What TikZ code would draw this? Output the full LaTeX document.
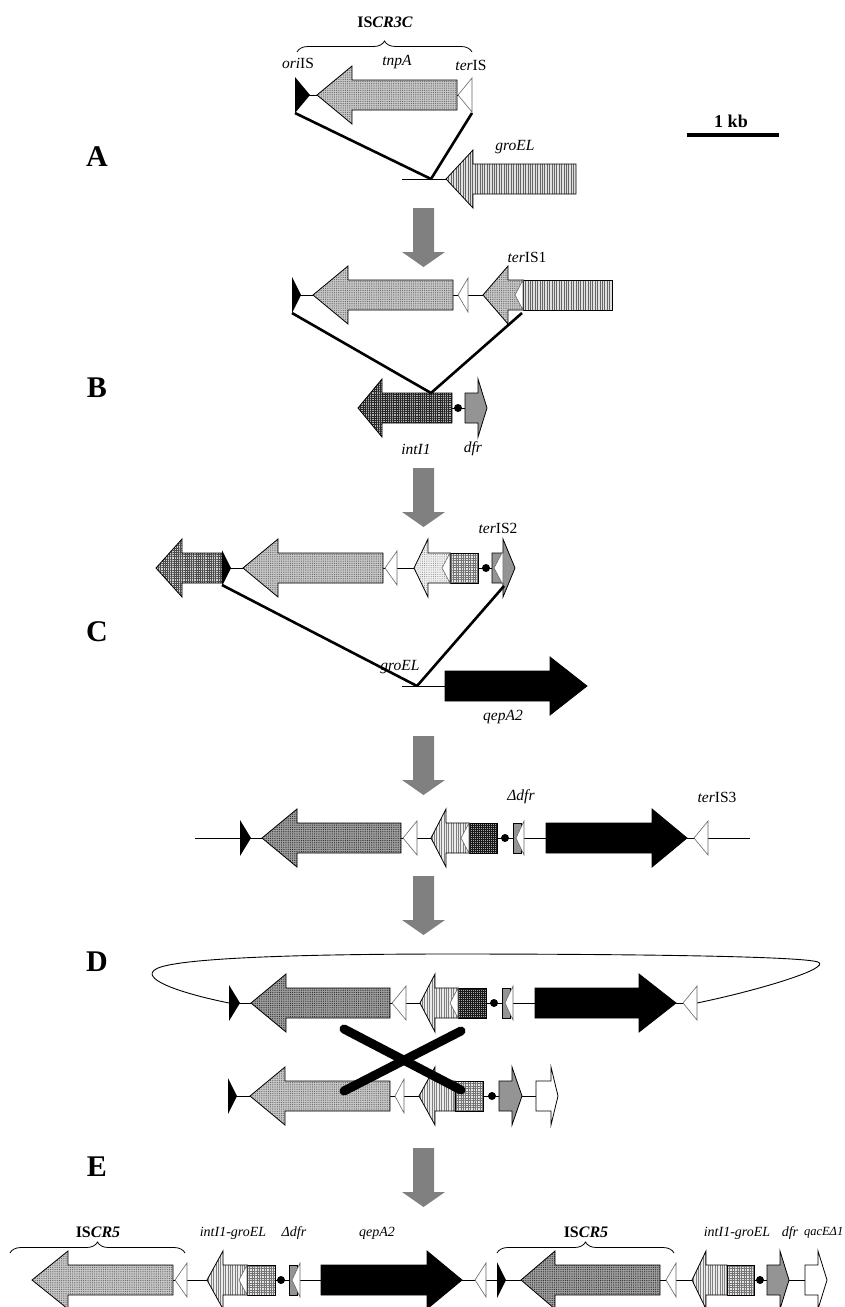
\documentclass[tikz,border=0pt]{standalone}
\usepackage{fontspec}
\setmainfont{Liberation Serif}
\usetikzlibrary{patterns.meta,decorations.pathreplacing}

\tikzset{
  outl/.style={draw=black, line width=0.8pt, line join=miter},
  tnp/.style={outl, preaction={fill=black!22}, pattern={Dots[distance=2.2pt,radius=0.6pt]}, pattern color=black!62},
  iscr/.style={outl, preaction={fill=black!38}, pattern={Dots[distance=2.2pt,radius=0.6pt]}, pattern color=black!85},
  groel/.style={outl, preaction={fill=black!12}, pattern={Lines[angle=90,distance=2.4pt,line width=0.9pt]}, pattern color=black!60},
  vlight/.style={outl, preaction={fill=black!8}, pattern={Lines[angle=90,distance=2.4pt,line width=0.7pt]}, pattern color=black!50},
  intd/.style={outl, preaction={fill=black!30}, pattern={Hatch[distance=2.2pt,line width=0.7pt]}, pattern color=black!85},
  intl/.style={outl, preaction={fill=black!18}, pattern={Hatch[distance=2.2pt,line width=0.6pt]}, pattern color=black!70},
  xdark/.style={outl, preaction={fill=black!35}, pattern={Hatch[distance=2pt,line width=0.7pt]}, pattern color=black!90},
  gridf/.style={outl, preaction={fill=black!10}, pattern={Hatch[distance=2.4pt,line width=0.6pt]}, pattern color=black!55},
  ldots/.style={outl, preaction={fill=black!6}, pattern={Dots[distance=2.2pt,radius=0.5pt]}, pattern color=black!50},
  dfrs/.style={outl, fill=black!42},
  blk/.style={fill=black, draw=black, line width=0.8pt},
  wht/.style={outl, fill=white},
  wtris/.style={fill=white, draw=black!60, line width=0.6pt},
  bb/.style={line width=0.9pt},
  thk/.style={line width=2.6pt},
  lab/.style={font=\fontsize{15.5}{17}\selectfont, inner sep=0pt},
  labe/.style={font=\fontsize{14}{16}\selectfont, inner sep=0pt},
  blab/.style={font=\fontsize{16}{18}\selectfont\bfseries, inner sep=0pt},
  sec/.style={font=\fontsize{30}{32}\selectfont\bfseries, inner sep=0pt},
  bracel/.style={line width=0.8pt, decorate, decoration={brace, amplitude=11pt}},
  trans/.style={fill=black!50},
}

% left-pointing gene: tip, head base, end, y, style
\newcommand\geneL[5]{\path[#5] (#1,#4) -- (#2,#4-29) -- (#2,#4-15) -- (#3,#4-15) -- (#3,#4+15) -- (#2,#4+15) -- (#2,#4+29) -- cycle;}
% right-pointing gene: start, head base, tip, y, style
\newcommand\geneR[5]{\path[#5] (#1,#4-15) -- (#2,#4-15) -- (#2,#4-29) -- (#3,#4) -- (#2,#4+29) -- (#2,#4+15) -- (#1,#4+15) -- cycle;}
% fused gene: tip, head base, junction, end, y, head style, body style
\newcommand\hybL[7]{\path[#6] (#1,#5) -- (#2,#5-29) -- (#2,#5-15) -- (#3,#5-15) -- (#3,#5+15) -- (#2,#5+15) -- (#2,#5+29) -- cycle;
  \path[#7] (#3,#5-15) rectangle (#4,#5+15);}
% white notch at a fusion point
\newcommand\notch[2]{\path[wtris] (#1,#2-15) -- (#1-8,#2) -- (#1,#2+15) -- cycle;}
% terminal inverted repeat (white) : tip, right edge, y
\newcommand\wtri[3]{\path[wtris] (#1,#3) -- (#2,#3-17) -- (#2,#3+17) -- cycle;}
% origin (black) : left edge, tip, y
\newcommand\btri[3]{\path[fill=black] (#1,#3-18) -- (#2,#3) -- (#1,#3+18) -- cycle;}
% attI site dot
\newcommand\dotj[2]{\fill (#1,#2) circle (4pt);}
% truncated dfr
\newcommand\dfrd[2]{\path[dfrs] (#1,#2-15) rectangle (#1+8,#2+15); \wtri{#1+3}{#1+11}{#2}}
% transition arrow starting at y
\newcommand\trarrow[1]{\path[trans] (413,#1) -- (434,#1) -- (434,#1+44) -- (445,#1+44) -- (423.5,#1+59) -- (402,#1+44) -- (413,#1+44) -- cycle;}

\begin{document}
\begin{tikzpicture}[x=1pt,y=-1pt]
\useasboundingbox (0,0) rectangle (844,1307);

% section letters
\node[sec] (secA) at (97,157) {A};
\node[sec] (secB) at (97,388) {B};
\node[sec] (secC) at (97,632) {C};
\node[sec] (secD) at (97,962) {D};
\node[sec] (secE) at (97,1167) {E};

% scale bar
\coordinate (sbL) at (687,135);
\coordinate (sbR) at (779,135);
\draw[line width=4pt] (sbL) -- (sbR);
\node[font=\fontsize{18}{20}\selectfont\bfseries, inner sep=0pt] (kb) at (731,121) {1 kb};

% ---- A ----
\node[blab] (iscrA) at (385,22) {IS\textit{CR3C}};
\draw[bracel] (297,52) -- (472,52);
\node[lab] (oriA) at (298,63) {\textit{ori}IS};
\node[lab] (tnpA) at (397,62) {\textit{tnpA}};
\node[lab] (terA) at (471,65) {\textit{ter}IS};
\draw[bb] (295,95) -- (472,95);
\btri{295}{310}{95}
\geneL{317}{352}{457}{95}{tnp}
\wtri{458}{472}{95}
\node[lab] (groA) at (515,147) {\textit{groEL}};
\draw[bb] (402,179) -- (447,179);
\geneL{446}{473}{576}{179}{groel}
\coordinate (aL) at (295,113);
\coordinate (aR) at (472,113);
\coordinate (aJ) at (431,179);
\draw[thk] (aL) -- (aJ);
\draw[thk] (aR) -- (aJ);

\trarrow{208}

% ---- B ----
\node[lab] (terB) at (527,257) {\textit{ter}IS1};
\draw[bb] (292,295) -- (483,295);
\btri{292}{301}{295}
\geneL{313}{348}{453}{295}{tnp}
\wtri{458}{468}{295}
\hybL{483}{508}{523}{612}{295}{tnp}{groel}
\notch{523}{295}
\coordinate (bL) at (292,313);
\coordinate (bR) at (522,313);
\coordinate (bJ) at (431,393);

\draw[bb] (452,408) -- (465,408);
\geneL{358}{382}{452}{408}{intd}
\dotj{458}{408}
\geneR{465}{478}{487}{408}{dfrs}
\draw[thk] (bL) -- (bJ);
\draw[thk] (bR) -- (bJ);
\node[lab] (intB) at (416,449) {\textit{intI1}};
\node[lab] (dfrB) at (473,449) {\textit{dfr}};

\trarrow{468}

% ---- C ----
\node[lab] (terC) at (498,528) {\textit{ter}IS2};
\draw[bb] (222,568) -- (492,568);
\geneL{156}{182}{222}{568}{intl}
\btri{222}{231}{568}
\geneL{243}{278}{383}{568}{tnp}
\wtri{385}{397}{568}
\hybL{414}{428}{450}{478}{568}{ldots}{gridf}
\notch{450}{568}
\dotj{486}{568}
\geneR{492}{503}{515}{568}{dfrs}
\wtri{494}{503}{568}
\coordinate (cL) at (222,585);
\coordinate (cR) at (504,586);
\coordinate (cJ) at (417,686);

\draw[bb] (402,686) -- (445,686);
\geneR{445}{550}{587}{686}{blk}
\draw[thk] (cL) -- (cJ);
\draw[thk] (cR) -- (cJ);
\node[lab] (groC) at (400,667) {\textit{groEL}};
\node[lab] (qepC) at (503,717) {\textit{qepA2}};

\trarrow{736}

% ---- intermediate ----
\node[lab] (dfrM) at (521,797) {\textit{Δdfr}};
\node[lab] (terM) at (717,797) {\textit{ter}IS3};
\draw[bb] (195,838) -- (750,838);
\btri{240}{251}{838}
\geneL{262}{297}{401}{838}{iscr}
\wtri{403}{417}{838}
\hybL{431}{446}{469}{497}{838}{vlight}{xdark}
\notch{469}{838}
\dotj{505}{838}
\dfrd{513}{838}
\geneR{546}{652}{687}{838}{blk}
\wtri{694}{708}{838}

\trarrow{876}

% ---- D ----
\draw[bb] (229,1003) .. controls (175,992) and (140,978) .. (156,969)
  .. controls (175,958) and (300,954) .. (450,954)
  .. controls (620,954) and (800,956) .. (818,962)
  .. controls (832,968) and (760,990) .. (697,1003);
\draw[bb] (229,1003) -- (697,1003);
\btri{229}{240}{1003}
\geneL{251}{286}{390}{1003}{iscr}
\wtri{392}{406}{1003}
\hybL{420}{435}{458}{486}{1003}{vlight}{xdark}
\notch{458}{1003}
\dotj{494}{1003}
\dfrd{502}{1003}
\geneR{535}{639}{676}{1003}{blk}
\wtri{683}{697}{1003}

\draw[bb] (228,1096) -- (536,1096);
\btri{228}{237}{1096}
\geneL{250}{285}{390}{1096}{tnp}
\wtri{395}{404}{1096}
\hybL{419}{435}{455}{483}{1096}{vlight}{gridf}
\dotj{492}{1096}
\geneR{499}{512}{522}{1096}{dfrs}
\geneR{536}{551}{558}{1096}{wht}

% crossover
\coordinate (x1a) at (344,1029);
\coordinate (x1b) at (461,1090);
\coordinate (x2a) at (461,1031);
\coordinate (x2b) at (344,1091);
\draw[line width=9pt, line cap=round] (x1a) -- (x1b);
\draw[line width=9pt, line cap=round] (x2a) -- (x2b);

\trarrow{1148}

% ---- E ----
\node[blab] (iscrE1) at (98,1232) {IS\textit{CR5}};
\draw[bracel] (10,1253) -- (185,1253);
\node[blab] (iscrE2) at (586,1232) {IS\textit{CR5}};
\draw[bracel] (497,1253) -- (674,1253);
\node[labe] (intE1) at (233,1233) {\textit{intI1-groEL}};
\node[labe] (dfrE1) at (294,1233) {\textit{Δdfr}};
\node[labe] (qepE) at (377,1233) {\textit{qepA2}};
\node[labe] (intE2) at (737,1233) {\textit{intI1-groEL}};
\node[labe] (dfrE2) at (790,1233) {\textit{dfr}};
\node[font=\fontsize{12.5}{15}\selectfont, inner sep=0pt, anchor=east] (qacE) at (843.5,1233) {\textit{qacEΔ1}};

\draw[bb] (32,1280) -- (805,1280);
\geneL{32}{68}{173}{1280}{tnp}
\wtri{175}{187}{1280}
\hybL{207}{223}{247}{275}{1280}{vlight}{gridf}
\notch{247}{1280}
\dotj{281}{1280}
\dfrd{289}{1280}
\geneR{321}{427}{462}{1280}{blk}
\wtri{475}{486}{1280}
\btri{497}{506}{1280}
\geneL{521}{555}{660}{1280}{iscr}
\wtri{666}{676}{1280}
\hybL{692}{706}{727}{754}{1280}{vlight}{gridf}
\dotj{760}{1280}
\geneR{767}{780}{789}{1280}{dfrs}
\geneR{805}{818}{827}{1280}{wht}
\end{tikzpicture}
\end{document}
